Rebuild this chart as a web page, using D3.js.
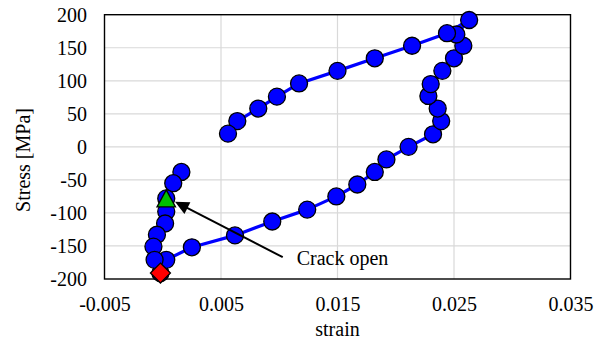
<!DOCTYPE html>
<html>
<head>
<meta charset="utf-8">
<script src="https://cdn.jsdelivr.net/npm/d3@7/dist/d3.min.js"></script>
<style>
  body { margin: 0; background: #fff; }
  svg { display: block; }
  svg text { font-family: "Liberation Serif", "Times New Roman", serif !important; fill: #000; }
</style>
</head>
<body>
<svg id="chart" width="605" height="338"></svg>
<script>
// Axis ticks
const strainTicks = [-0.005, 0.005, 0.015, 0.025, 0.035];
const stressTicks = [-200, -150, -100, -50, 0, 50, 100, 150, 200];

// Hysteresis loop: loading from the minimum up to the peak, then unloading.
// null marks the readings missing while the crack closes (no line drawn there).
const strain = [
  -0.0002, 0.0003, 0.0025, 0.0062, 0.0094, 0.0124, 0.0149, 0.0167, 0.0182, 0.0192,
  0.0211, 0.0232, 0.0239, 0.0236, 0.0228, 0.0230, 0.0240, 0.0250, 0.0258, 0.0252,
  0.0263,
  0.0244, 0.0214, 0.0182, 0.0150, 0.0117, 0.0098, 0.0082, 0.0064, 0.0056,
  null, null,
  0.0016, 0.0009, 0.0003, 0.0003, 0.0002, -0.0005, -0.0008, -0.0007
];
const stress = [
  -191, -171, -152, -134, -113, -95, -75, -57, -38, -19,
  0, 19, 39, 58, 77, 95, 115, 134, 153, 170,
  192,
  172, 153, 134, 115, 96, 76, 58, 39, 20,
  0, -19,
  -38, -55, -78, -98, -116, -133, -151, -171
];

// Highlighted states
const crackOpenPoint = [0.0003, -78];   // strain, stress
const minStressPoint = [-0.0002, -191];

// Annotation arrow (strain, stress)
const arrowFrom = [0.0103, -167];
const arrowTo = [0.00105, -83];
const annotationText = "Crack open";

const xTitle = "strain";
const yTitle = "Stress [MPa]";

const FONT = '"Liberation Serif", "Times New Roman", serif';

const svg = d3.select("#chart");
const plot = { left: 104.5, right: 570.5, top: 14.7, bottom: 279 };

const x = d3.scaleLinear().domain([-0.005, 0.035]).range([plot.left, plot.right]);
const y = d3.scaleLinear().domain([-200, 200]).range([plot.bottom, plot.top]);

svg.append("rect").attr("width", 605).attr("height", 338).attr("fill", "#fff");

// Gridlines
const grid = svg.append("g").attr("stroke", "#d9d9d9").attr("stroke-width", 1.2);
grid.selectAll("line.h").data(stressTicks.slice(1, -1)).join("line")
  .attr("x1", plot.left).attr("x2", plot.right)
  .attr("y1", d => y(d)).attr("y2", d => y(d));
grid.selectAll("line.v").data(strainTicks.slice(1, -1)).join("line")
  .attr("y1", plot.top).attr("y2", plot.bottom)
  .attr("x1", d => x(d)).attr("x2", d => x(d));

// Tick labels
const xAxis = svg.append("g")
  .attr("transform", `translate(0,${plot.bottom})`)
  .call(d3.axisBottom(x).tickValues(strainTicks).tickSize(0).tickFormat(d => d.toFixed(3)))
  .attr("font-family", FONT).attr("font-size", 20);
xAxis.select(".domain").remove();
xAxis.selectAll("text").attr("y", 31.7).attr("dy", null).attr("fill", "#000");

const yAxis = svg.append("g")
  .attr("transform", `translate(${plot.left},0)`)
  .call(d3.axisLeft(y).tickValues(stressTicks).tickSize(0).tickPadding(17.5).tickFormat(d => String(d)))
  .attr("font-family", FONT).attr("font-size", 20);
yAxis.select(".domain").remove();
yAxis.selectAll("text").attr("dy", "0.33em").attr("fill", "#000");

// Plot frame
svg.append("rect")
  .attr("x", plot.left).attr("y", plot.top)
  .attr("width", plot.right - plot.left).attr("height", plot.bottom - plot.top)
  .attr("fill", "none").attr("stroke", "#000").attr("stroke-width", 1.4);

// Axis titles
svg.append("text")
  .attr("x", (plot.left + plot.right) / 2).attr("y", 335.5)
  .attr("text-anchor", "middle").attr("font-family", FONT).attr("font-size", 20).text(xTitle);
svg.append("text")
  .attr("transform", `translate(29.5,160) rotate(-90)`)
  .attr("text-anchor", "middle").attr("font-family", FONT).attr("font-size", 20).text(yTitle);

// Series
const pts = strain.map((s, i) => ({ strain: s, stress: stress[i] }));
const line = d3.line()
  .defined(d => d.strain !== null)
  .x(d => x(d.strain)).y(d => y(d.stress));

svg.append("path").datum(pts)
  .attr("d", line)
  .attr("fill", "none").attr("stroke", "#0000ff").attr("stroke-width", 3.2)
  .attr("stroke-linejoin", "round");

svg.append("g").selectAll("circle")
  .data(pts.filter(d => d.strain !== null)).join("circle")
  .attr("cx", d => x(d.strain)).attr("cy", d => y(d.stress))
  .attr("r", 8.5)
  .attr("fill", "#0000ff").attr("stroke", "#000").attr("stroke-width", 1.3);

// Crack-open marker (triangle)
{
  const cx = x(crackOpenPoint[0]), cy = y(crackOpenPoint[1]);
  const w = 18.5, h = 17;
  svg.append("path")
    .attr("d", `M${cx},${cy - h / 2}L${cx + w / 2},${cy + h / 2}L${cx - w / 2},${cy + h / 2}Z`)
    .attr("fill", "#00c000").attr("stroke", "#000").attr("stroke-width", 1.3);
}

// Minimum-stress marker (diamond)
{
  const cx = x(minStressPoint[0]), cy = y(minStressPoint[1]);
  const r = 10;
  svg.append("path")
    .attr("d", `M${cx},${cy - r}L${cx + r},${cy}L${cx},${cy + r}L${cx - r},${cy}Z`)
    .attr("fill", "#ff0000").attr("stroke", "#000").attr("stroke-width", 1.3);
}

// Annotation arrow
{
  const x0 = x(arrowFrom[0]), y0 = y(arrowFrom[1]);
  const x1 = x(arrowTo[0]), y1 = y(arrowTo[1]);
  const len = Math.hypot(x1 - x0, y1 - y0);
  const ux = (x1 - x0) / len, uy = (y1 - y0) / len;
  const headLen = 14, headHalf = 6.5;
  const bx = x1 - ux * headLen, by = y1 - uy * headLen;
  svg.append("line")
    .attr("x1", x0).attr("y1", y0).attr("x2", bx + ux * 2).attr("y2", by + uy * 2)
    .attr("stroke", "#000").attr("stroke-width", 2);
  svg.append("path")
    .attr("d", `M${x1},${y1}L${bx - uy * headHalf},${by + ux * headHalf}L${bx + uy * headHalf},${by - ux * headHalf}Z`)
    .attr("fill", "#000");
  svg.append("text")
    .attr("x", x0 + 14).attr("y", y0 + 8)
    .attr("font-family", FONT).attr("font-size", 20).text(annotationText);
}
</script>
</body>
</html>
